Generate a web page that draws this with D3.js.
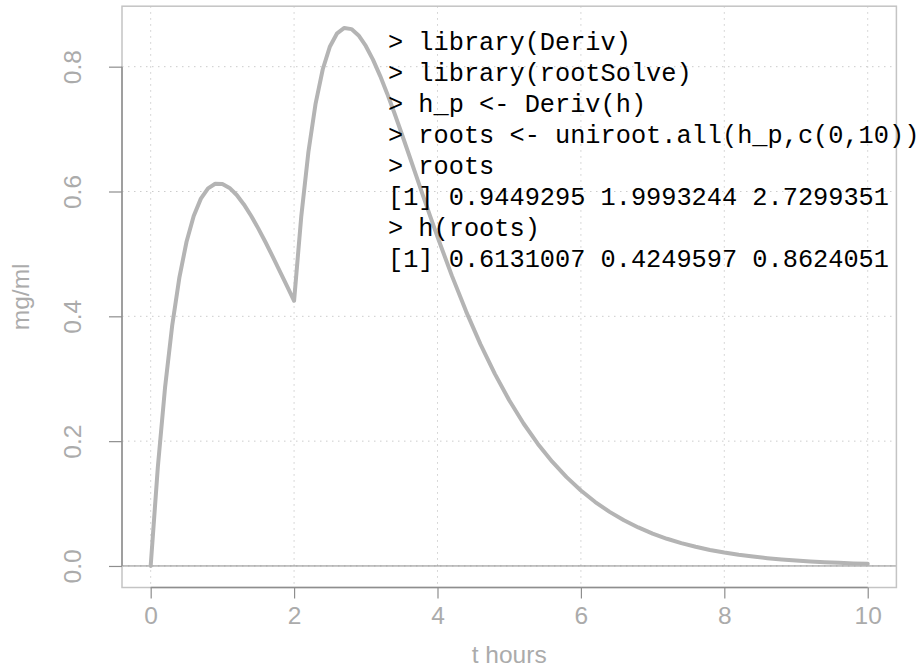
<!DOCTYPE html>
<html>
<head>
<meta charset="utf-8">
<script src="https://cdn.jsdelivr.net/npm/d3@7"></script>
<style>
  html, body { margin: 0; padding: 0; background: #ffffff; }
  svg { display: block; }
</style>
</head>
<body>
<svg id="chart" width="921" height="670"></svg>
<script>
// ---- data ----
const hours = [0, 0.1, 0.2, 0.3, 0.4, 0.5, 0.6, 0.7, 0.8, 0.9, 1.0,
  1.1, 1.2, 1.3, 1.4, 1.5, 1.6, 1.7, 1.8, 1.9, 2.0,
  2.1, 2.2, 2.3, 2.4, 2.5, 2.6, 2.7, 2.8, 2.9, 3.0,
  3.1, 3.2, 3.3, 3.4, 3.5, 3.6, 3.7, 3.8, 3.9, 4.0,
  4.2, 4.4, 4.6, 4.8, 5.0, 5.2, 5.4, 5.6, 5.8, 6.0,
  6.2, 6.4, 6.6, 6.8, 7.0, 7.2, 7.4, 7.6, 7.8, 8.0,
  8.2, 8.4, 8.6, 8.8, 9.0, 9.2, 9.4, 9.6, 9.8, 10.0];
const conc = [0, 0.1587, 0.2854, 0.3852, 0.4620, 0.5195, 0.5608, 0.5886, 0.6051, 0.6124, 0.6121,
  0.6057, 0.5944, 0.5793, 0.5612, 0.5409, 0.5190, 0.4961, 0.4725, 0.4487, 0.4249,
  0.5600, 0.6637, 0.7409, 0.7959, 0.8324, 0.8535, 0.8620, 0.8602, 0.8500, 0.8332,
  0.8113, 0.7853, 0.7564, 0.7254, 0.6929, 0.6597, 0.6261, 0.5927, 0.5596, 0.5272,
  0.4652, 0.4076, 0.3551, 0.3078, 0.2656, 0.2283, 0.1956, 0.1671, 0.1423, 0.1209,
  0.1024, 0.0867, 0.0732, 0.0617, 0.0519, 0.0436, 0.0366, 0.0307, 0.0257, 0.0215,
  0.0179, 0.0150, 0.0125, 0.0104, 0.0087, 0.0072, 0.0060, 0.0050, 0.0041, 0.0034];
const xTicks = [0, 2, 4, 6, 8, 10];
const yTicks = [0.0, 0.2, 0.4, 0.6, 0.8];
const yTickLabels = ["0.0", "0.2", "0.4", "0.6", "0.8"];
const xLabel = "t hours";
const yLabel = "mg/ml";
const consoleLines = [
  "> library(Deriv)",
  "> library(rootSolve)",
  "> h_p <- Deriv(h)",
  "> roots <- uniroot.all(h_p,c(0,10))",
  "> roots",
  "[1] 0.9449295 1.9993244 2.7299351",
  "> h(roots)",
  "[1] 0.6131007 0.4249597 0.8624051"
];

// ---- layout ----
const L = 122, R = 896.4, T = 6.2, B = 587.5;
const svg = d3.select("#chart");
const x = d3.scaleLinear().domain([-0.4, 10.4]).range([L, R]);
const y = d3.scaleLinear().domain([-0.0345, 0.8969]).range([B, T]);
const sans = "'Liberation Sans', Arial, Helvetica, sans-serif";
const labelCol = "#ababab";
const axisCol = "#8e8e8e";

// grid
const grid = svg.append("g");
grid.selectAll("line.vx").data(xTicks).enter().append("line")
  .attr("x1", d => x(d)).attr("x2", d => x(d)).attr("y1", T).attr("y2", B)
  .attr("stroke", "#cccccc").attr("stroke-width", 1).attr("stroke-dasharray", "1.5,4.5");
grid.selectAll("line.hy").data(yTicks).enter().append("line")
  .attr("x1", L).attr("x2", R).attr("y1", d => y(d)).attr("y2", d => y(d))
  .attr("stroke", "#cccccc").attr("stroke-width", 1).attr("stroke-dasharray", "1.5,4.5");

// horizontal zero line
svg.append("line").attr("x1", L).attr("x2", R).attr("y1", y(0)).attr("y2", y(0))
  .attr("stroke", "#8a8a8a").attr("stroke-width", 1);

// box
svg.append("rect").attr("x", L).attr("y", T).attr("width", R - L).attr("height", B - T)
  .attr("fill", "none").attr("stroke", "#c4c4c4").attr("stroke-width", 1.5);

// curve
const pts = hours.map((h, i) => [h, conc[i]]);
svg.append("path").datum(pts)
  .attr("d", d3.line().x(d => x(d[0])).y(d => y(d[1])))
  .attr("fill", "none").attr("stroke", "#b4b4b4").attr("stroke-width", 4)
  .attr("stroke-linejoin", "round").attr("stroke-linecap", "round");

// x axis
const xa = svg.append("g").attr("transform", `translate(0,${B})`)
  .call(d3.axisBottom(x).tickValues(xTicks).tickSize(11).tickPadding(8).tickFormat(d3.format("d")));
xa.select(".domain").remove();
xa.selectAll(".tick line").attr("stroke", axisCol).attr("stroke-width", 1.2);
xa.selectAll(".tick text").attr("fill", labelCol).attr("font-family", sans).attr("font-size", 24.5)
  .attr("dy", "0.71em");
xa.append("line").attr("x1", x(0)).attr("x2", x(10)).attr("y1", 0).attr("y2", 0)
  .attr("stroke", axisCol).attr("stroke-width", 1.5);

// y axis
const ya = svg.append("g").attr("transform", `translate(${L},0)`)
  .call(d3.axisLeft(y).tickValues(yTicks).tickSize(13).tickFormat((d, i) => yTickLabels[i]));
ya.select(".domain").remove();
ya.selectAll(".tick line").attr("stroke", axisCol).attr("stroke-width", 1.2);
ya.selectAll(".tick text")
  .attr("fill", labelCol).attr("font-family", sans).attr("font-size", 24.5)
  .attr("text-anchor", "middle").attr("transform", "rotate(-90)")
  .attr("x", 0).attr("y", -41).attr("dy", 0);
ya.append("line").attr("x1", 0).attr("x2", 0).attr("y1", y(0)).attr("y2", y(0.8))
  .attr("stroke", axisCol).attr("stroke-width", 1.5);

// axis titles
svg.append("text").attr("x", (L + R) / 2).attr("y", 663).attr("text-anchor", "middle")
  .attr("font-family", sans).attr("font-size", 24.5).attr("fill", labelCol).text(xLabel);
svg.append("text").attr("transform", `translate(29,${(T + B) / 2}) rotate(-90)`)
  .attr("text-anchor", "middle")
  .attr("font-family", sans).attr("font-size", 24.5).attr("fill", labelCol).text(yLabel);

// console text
svg.append("g").selectAll("text").data(consoleLines).enter().append("text")
  .attr("x", 388).attr("y", (d, i) => 50 + i * 31)
  .attr("font-family", "'Liberation Mono', 'DejaVu Sans Mono', monospace")
  .attr("font-size", 25.3).attr("fill", "#000000")
  .attr("xml:space", "preserve").style("white-space", "pre")
  .text(d => d);
</script>
</body>
</html>
